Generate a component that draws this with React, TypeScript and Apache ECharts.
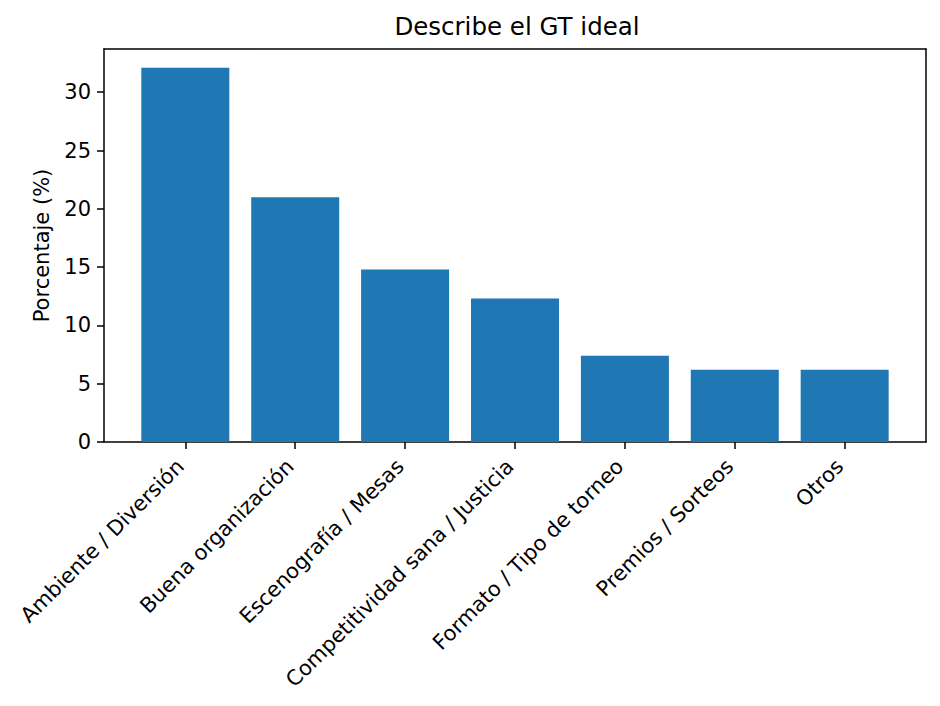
import React, { useEffect, useRef } from "react";
import * as echarts from "echarts";

const categories = [
  "Ambiente / Diversión",
  "Buena organización",
  "Escenografía / Mesas",
  "Competitividad sana / Justicia",
  "Formato / Tipo de torneo",
  "Premios / Sorteos",
  "Otros",
];
const values = [32.1, 21.0, 14.8, 12.3, 7.4, 6.2, 6.2];
const yTicks = [0, 5, 10, 15, 20, 25, 30];

const FONT = "DejaVu Sans";

export default function App() {
  const ref = useRef<HTMLDivElement>(null);
  useEffect(() => {
    if (!ref.current) return;
    const chart = echarts.init(ref.current, undefined, { renderer: "svg" });
    const idx = categories.map((_, i) => i);
    const xMin = -0.74;
    const xMax = categories.length - 1 + 0.74;
    const yMax = Math.max(...values) * 1.05;
    const line = { show: true, onZero: false, lineStyle: { color: "#000", width: 1.5 } };
    chart.setOption({
      animation: false,
      backgroundColor: "#fff",
      title: {
        text: "Describe el GT ideal",
        left: 512,
        top: 9,
        textAlign: "center",
        textStyle: { fontFamily: FONT, fontSize: 24.5, fontWeight: "normal", color: "#000" },
      },
      grid: { left: 104, right: 14, top: 49, bottom: 264, containLabel: false },
      xAxis: [
        {
          type: "value",
          min: xMin,
          max: xMax,
          position: "bottom",
          axisLine: line,
          splitLine: { show: false },
          axisTick: { show: true, customValues: idx, length: 7, lineStyle: { color: "#000", width: 1.5 } },
          axisLabel: {
            customValues: idx,
            rotate: 45,
            margin: 16,
            padding: [0, 7, 0, 0],
            fontFamily: FONT,
            fontSize: 21,
            color: "#000",
            formatter: (v: number) => categories[Math.round(v)] ?? "",
          },
        },
        {
          type: "value",
          min: xMin,
          max: xMax,
          position: "top",
          axisLine: line,
          axisTick: { show: false },
          axisLabel: { show: false },
          splitLine: { show: false },
        },
      ],
      yAxis: [
        {
          type: "value",
          min: 0,
          max: yMax,
          position: "left",
          name: "Porcentaje (%)",
          nameLocation: "middle",
          nameGap: 52,
          nameRotate: 90,
          nameTextStyle: { fontFamily: FONT, fontSize: 21, color: "#000" },
          axisLine: line,
          splitLine: { show: false },
          axisTick: { show: true, customValues: yTicks, length: 7, lineStyle: { color: "#000", width: 1.5 } },
          axisLabel: {
            customValues: yTicks,
            margin: 13,
            fontFamily: FONT,
            fontSize: 21,
            color: "#000",
          },
        },
        {
          type: "value",
          min: 0,
          max: yMax,
          position: "right",
          axisLine: line,
          axisTick: { show: false },
          axisLabel: { show: false },
          splitLine: { show: false },
        },
      ],
      series: [
        {
          type: "bar",
          xAxisIndex: 0,
          yAxisIndex: 0,
          barWidth: 88,
          itemStyle: { color: "#1f77b4" },
          data: values.map((v, i) => [i, v]),
        },
      ],
    });
    return () => chart.dispose();
  }, []);
  return (
    <div
      ref={ref}
      style={{ position: "fixed", left: 0, top: 0, width: 940, height: 706 }}
    />
  );
}
